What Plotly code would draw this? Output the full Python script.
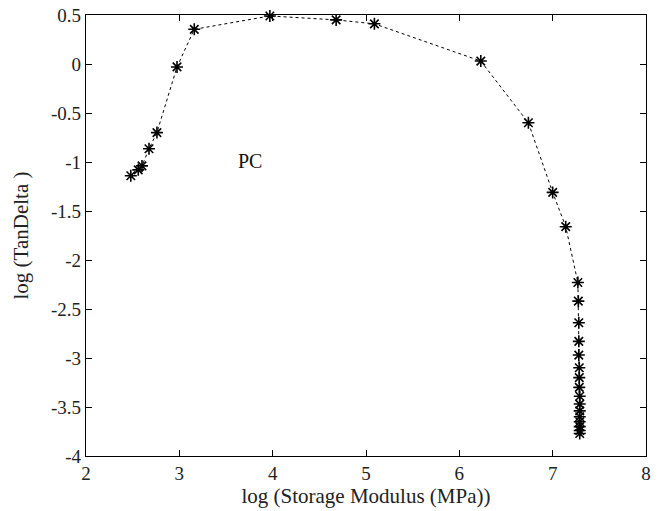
import plotly.graph_objects as go

log_storage = [2.48, 2.56, 2.60, 2.675, 2.76, 2.975, 3.16, 3.97, 4.68, 5.09, 6.23, 6.74, 7.00, 7.14,
               7.27, 7.275, 7.28, 7.28, 7.28, 7.285, 7.285, 7.285, 7.29, 7.29, 7.29, 7.29, 7.29, 7.29, 7.29, 7.29]
log_tandelta = [-1.14, -1.08, -1.04, -0.865, -0.70, -0.03, 0.354, 0.49, 0.45, 0.41, 0.03, -0.60, -1.31, -1.66,
                -2.23, -2.42, -2.64, -2.83, -2.97, -3.10, -3.20, -3.30, -3.39, -3.47, -3.54, -3.60, -3.65, -3.70, -3.74, -3.77]

x_ticks = [2, 3, 4, 5, 6, 7, 8]
y_ticks = [0.5, 0, -0.5, -1, -1.5, -2, -2.5, -3, -3.5, -4]
y_tick_labels = ["0.5", "0", "-0.5", "-1", "-1.5", "-2", "-2.5", "-3", "-3.5", "-4"]

fig = go.Figure()
fig.add_trace(go.Scatter(
    x=log_storage, y=log_tandelta, mode="lines+markers",
    line=dict(color="black", width=1, dash="3px,3px"),
    marker=dict(symbol="asterisk-open", size=10, color="black", line=dict(color="black", width=1.6)),
    showlegend=False, cliponaxis=False,
))

fig.add_annotation(x=3.76, y=-0.99, text="PC", showarrow=False,
                   font=dict(family="Liberation Serif", size=20, color="#111"))

axis_common = dict(showgrid=False, zeroline=False, showline=True, linecolor="black", linewidth=1.2,
                   mirror="ticks", ticks="inside", ticklen=6, tickcolor="black", tickwidth=1,
                   automargin=False,
                   tickfont=dict(family="Liberation Serif", size=19, color="#222"))

fig.update_xaxes(range=[2, 8], tickvals=x_ticks, ticktext=[str(v) for v in x_ticks],
                 title=dict(text="log (Storage Modulus (MPa))", standoff=4,
                            font=dict(family="Liberation Serif", size=21, color="#222")),
                 **axis_common)
fig.update_yaxes(range=[-4, 0.5], tickvals=y_ticks, ticktext=y_tick_labels,
                 title=dict(text="log (TanDelta )", standoff=16,
                            font=dict(family="Liberation Serif", size=21, color="#222")),
                 **axis_common)

fig.update_layout(width=664, height=511, margin=dict(l=86, r=18, t=15, b=55),
                  paper_bgcolor="white", plot_bgcolor="white")

fig.write_html("out.html")
